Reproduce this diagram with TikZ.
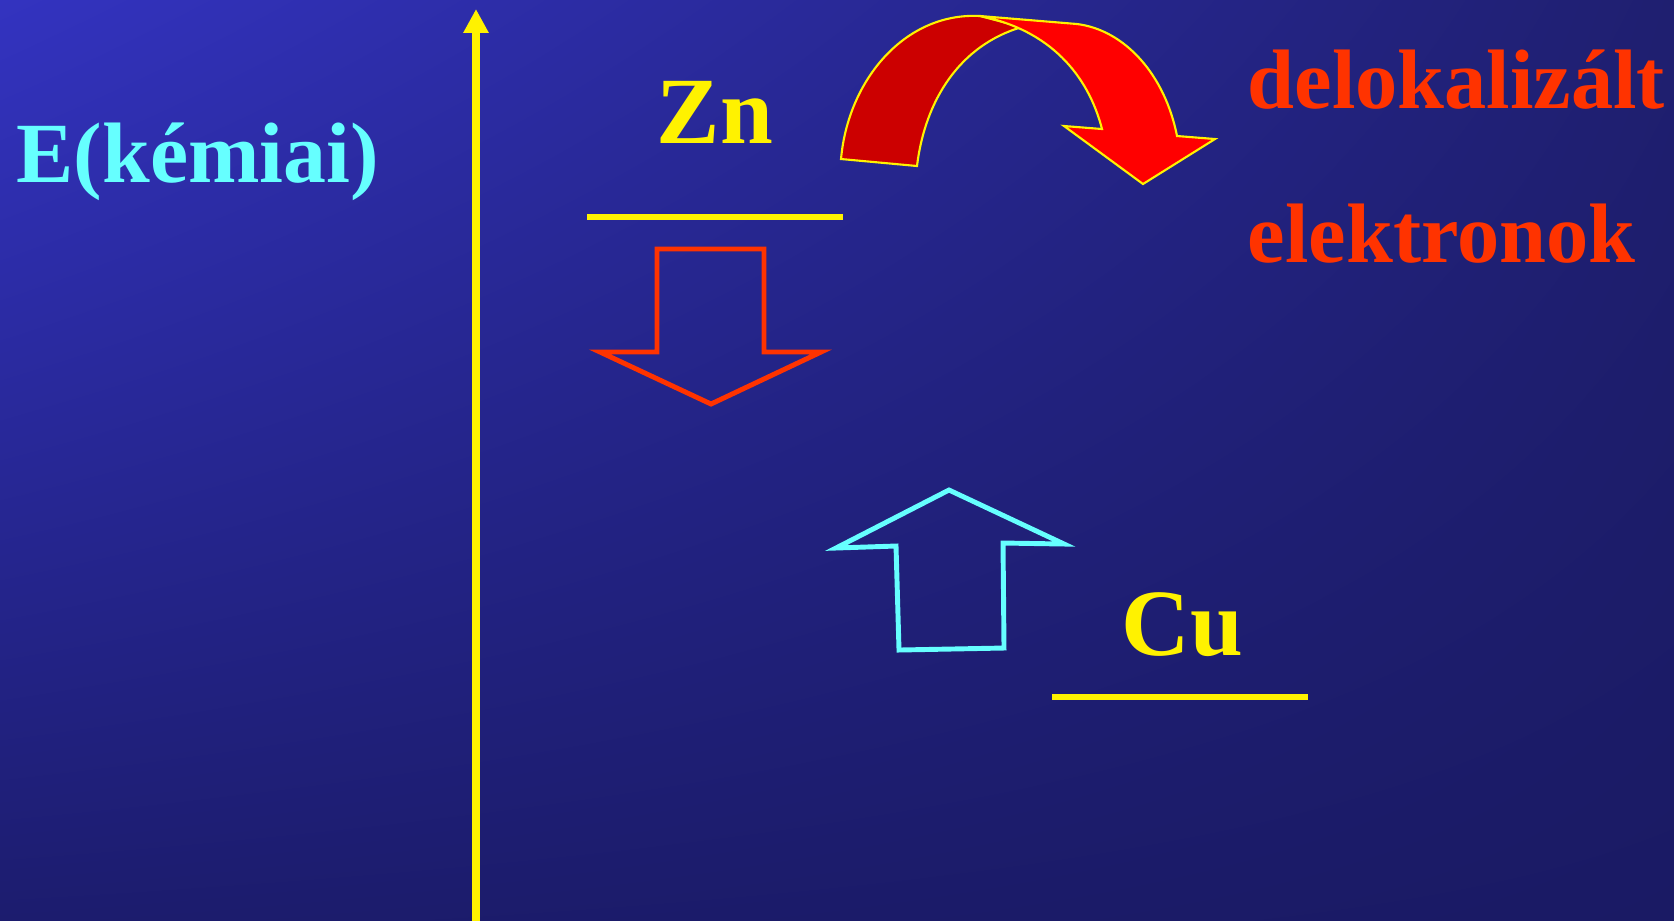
\documentclass[tikz,border=0pt]{standalone}
\usepackage{fontspec}
\setmainfont{Liberation Serif}
\usetikzlibrary{arrows.meta,shadings}

\definecolor{bgtl}{RGB}{51,51,192}
\definecolor{bgtr}{RGB}{31,31,112}
\definecolor{bgbl}{RGB}{28,28,110}
\definecolor{bgbr}{RGB}{26,26,100}
\definecolor{cian}{RGB}{102,255,255}
\definecolor{narancs}{RGB}{255,51,0}
\definecolor{sotetpiros}{RGB}{204,0,0}

\begin{document}
\begin{tikzpicture}[x=0.01cm,y=-0.01cm,line join=miter,
  every node/.style={inner sep=0pt,anchor=base west},
  cimke/.style={font=\bfseries\fontsize{#1}{#1}\selectfont},
  szint/.style={yellow,line width=1.7pt},
  nyil/.style={line width=1.4pt}]
  % hatter: atmenet balrol felulrol jobbra lefele
  \shade[upper left=bgtl,upper right=bgtr,lower left=bgbl,lower right=bgbr]
    (0,0) rectangle (1674,920);
  \useasboundingbox (0,0) rectangle (1674,920);

  % energia tengely
  \coordinate (alj) at (476,922);
  \coordinate (csucs) at (476,9);
  \draw[yellow,line width=2.3pt,-{Triangle[length=6.8pt,width=6.8pt]}] (alj) -- (csucs);
  \node[cimke=24.4,text=cian] (E) at (16,182) {E(kémiai)};

  % Zn szint es lefele mutato nyil
  \node[cimke=27,text=yellow] (Zn) at (656,143) {Zn};
  \draw[szint] (587,217) -- (843,217);
  \draw[nyil,narancs] (657,249) -- (764,249) -- (764,352) -- (821,352)
    -- (711,404) -- (600,352) -- (657,352) -- cycle;

  % Cu szint es felfele mutato nyil
  \node[cimke=27,text=yellow] (Cu) at (1121,655) {Cu};
  \draw[szint] (1052,697) -- (1308,697);
  \draw[nyil,cian] (949,490) -- (1064,544) -- (1003,543) -- (1004,648)
    -- (899,650) -- (896,546) -- (836,548) -- cycle;

  % ivelt nyil a delokalizalt elektronok fele
  \draw[yellow,line width=0.6pt,fill=sotetpiros] (841,159) .. controls (848,80) and (905,12) .. (980,16)
    -- (1022,27) .. controls (960,45) and (925,100) .. (917,166) -- cycle;
  \draw[yellow,line width=0.6pt,fill=red] (980,16) -- (1077,24)
    .. controls (1125,30) and (1165,75) .. (1177,136) -- (1215,139) -- (1143,184)
    -- (1064,126) -- (1102,129) .. controls (1088,75) and (1050,30) .. (980,16) -- cycle;
  \node[cimke=24,text=narancs] (deloc) at (1247,108) {delokalizált};
  \node[cimke=24,text=narancs] (elektr) at (1247,262) {elektronok};
\end{tikzpicture}
\end{document}
